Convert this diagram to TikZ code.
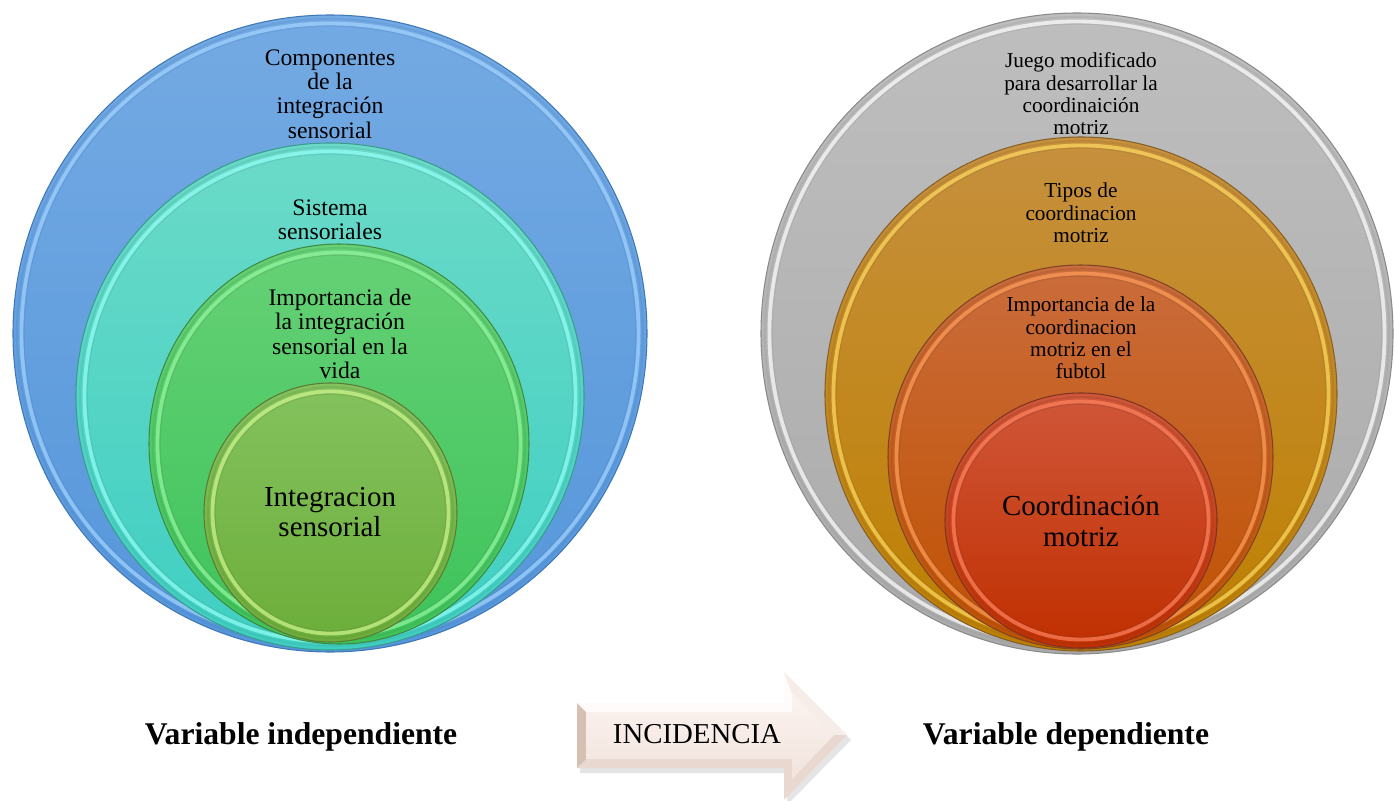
\documentclass[tikz,border=0pt]{standalone}
\usepackage{fontspec}
\setmainfont{Liberation Serif}
\usetikzlibrary{calc}

% beveled disc: centre x, centre y, x radius, y radius, top colour, bottom colour, rim colour, edge colour
\newcommand{\bevdisc}[8]{%
  \shade[top color=#5,bottom color=#6,draw=#8,line width=0.6pt]
    (#1,#2) ellipse [x radius=#3, y radius=#4];
  \draw[#8,line width=1.2pt,opacity=0.18]
    (#1,#2) ellipse [x radius=#3-4, y radius=#4-4];
  \draw[#7,line width=2.2pt,opacity=0.7]
    (#1,#2) ellipse [x radius=#3-8.5, y radius=#4-8.5];
  \draw[#8,line width=0.8pt,opacity=0.2]
    (#1,#2) ellipse [x radius=#3-11, y radius=#4-11];
}

\definecolor{blueT}{HTML}{74AAE3}
\definecolor{blueB}{HTML}{5596DA}
\definecolor{blueR}{HTML}{A4D4FF}
\definecolor{blueE}{HTML}{3F78B8}
\definecolor{cyanT}{HTML}{6CDAC8}
\definecolor{cyanB}{HTML}{3ECFC2}
\definecolor{cyanR}{HTML}{95FFF6}
\definecolor{cyanE}{HTML}{3A9C8E}
\definecolor{grnT}{HTML}{66D176}
\definecolor{grnB}{HTML}{3DC35A}
\definecolor{grnR}{HTML}{95F7A2}
\definecolor{grnE}{HTML}{3E8A45}
\definecolor{lgrT}{HTML}{84C25E}
\definecolor{lgrB}{HTML}{6CAE3A}
\definecolor{lgrR}{HTML}{D0F790}
\definecolor{lgrE}{HTML}{5B7A35}
\definecolor{gryT}{HTML}{BEBEBE}
\definecolor{gryB}{HTML}{ABABAB}
\definecolor{gryR}{HTML}{FFFFFF}
\definecolor{gryE}{HTML}{8A8A8A}
\definecolor{gldT}{HTML}{C6903E}
\definecolor{gldB}{HTML}{BE8000}
\definecolor{gldR}{HTML}{FFDB62}
\definecolor{gldE}{HTML}{86602A}
\definecolor{orgT}{HTML}{CA6C3C}
\definecolor{orgB}{HTML}{C05100}
\definecolor{orgR}{HTML}{FF9E5A}
\definecolor{orgE}{HTML}{7E4426}
\definecolor{redT}{HTML}{D0573A}
\definecolor{redB}{HTML}{C02F00}
\definecolor{redR}{HTML}{FF8460}
\definecolor{redE}{HTML}{7C3424}
\definecolor{arrTop}{HTML}{FBF3F0}
\definecolor{arrBot}{HTML}{F2E3DC}
\definecolor{bvLight}{HTML}{FEFBFA}
\definecolor{bvMid}{HTML}{E9D8D0}
\definecolor{bvDark}{HTML}{D6C0B4}

\begin{document}
\begin{tikzpicture}[x=0.02cm,y=-0.02cm,
  small/.style={align=center,inner sep=0pt,font=\fontsize{13.5}{13.9}\selectfont},
  smallr/.style={align=center,inner sep=0pt,font=\fontsize{12.1}{12.7}\selectfont},
  big/.style={align=center,inner sep=0pt,font=\fontsize{16.5}{17.4}\selectfont},
  caption/.style={inner sep=0pt,font=\fontsize{18}{20}\selectfont\bfseries}]
\useasboundingbox (0,0) rectangle (1394,801);
\fill[white] (0,0) rectangle (1394,801);

% independent variable: nested discs
\bevdisc{330}{333.5}{317}{318.5}{blueT}{blueB}{blueR}{blueE}
\bevdisc{330}{396.5}{254}{253.5}{cyanT}{cyanB}{cyanR}{cyanE}
\bevdisc{339}{444}{190}{200}{grnT}{grnB}{grnR}{grnE}
\bevdisc{330.5}{512.5}{126.5}{129.5}{lgrT}{lgrB}{lgrR}{lgrE}

\node[small] (comp) at (330,94) {Componentes\\de la\\integración\\sensorial};
\node[small] (sist) at (330,220) {Sistema\\sensoriales};
\node[small] (impi) at (340,334) {Importancia de\\la integración\\sensorial en la\\vida};
\node[big] (integ) at (330,512) {Integracion\\sensorial};

% dependent variable: nested discs
\bevdisc{1077}{333.5}{316}{320.5}{gryT}{gryB}{gryR}{gryE}
\bevdisc{1081}{394}{256}{257}{gldT}{gldB}{gldR}{gldE}
\bevdisc{1080.5}{457}{192.5}{192}{orgT}{orgB}{orgR}{orgE}
\bevdisc{1081}{520.5}{136}{127.5}{redT}{redB}{redR}{redE}

\node[smallr] (juego) at (1081,94) {Juego modificado\\para desarrollar la\\coordinaición\\motriz};
\node[smallr] (tipos) at (1081,213) {Tipos de\\coordinacion\\motriz};
\node[smallr] (impd) at (1081,338) {Importancia de la\\coordinacion\\motriz en el\\fubtol};
\node[big] (coord) at (1081,521) {Coordinación\\motriz};

% block arrow with beveled facets
\fill[black,opacity=0.10] (580,708) -- (787,708) -- (787,677) -- (851,740) -- (787,805) -- (787,773) -- (580,773) -- cycle;
\fill[bvLight] (577,703) -- (784,703) -- (792,712) -- (586,712) -- cycle;
\fill[bvLight] (784,703) -- (784,672) -- (792,693) -- (792,712) -- cycle;
\fill[bvLight!60!bvMid] (784,672) -- (847,735) -- (834,735) -- (792,693) -- cycle;
\fill[bvMid] (847,735) -- (784,800) -- (792,779) -- (834,735) -- cycle;
\fill[bvMid] (784,800) -- (784,768) -- (792,759) -- (792,779) -- cycle;
\fill[bvMid] (784,768) -- (577,768) -- (586,759) -- (792,759) -- cycle;
\fill[bvDark] (577,768) -- (577,703) -- (586,712) -- (586,759) -- cycle;
\shade[top color=arrTop,bottom color=arrBot] (586,712) -- (792,712) -- (792,693) -- (834,735) -- (792,779) -- (792,759) -- (586,759) -- cycle;

\node[inner sep=0pt,font=\fontsize{16.4}{18}\selectfont] (inc) at (697,734) {INCIDENCIA};
\node[caption] (vi) at (301,737) {Variable independiente};
\node[caption] (vd) at (1066,737) {Variable dependiente};
\end{tikzpicture}
\end{document}
